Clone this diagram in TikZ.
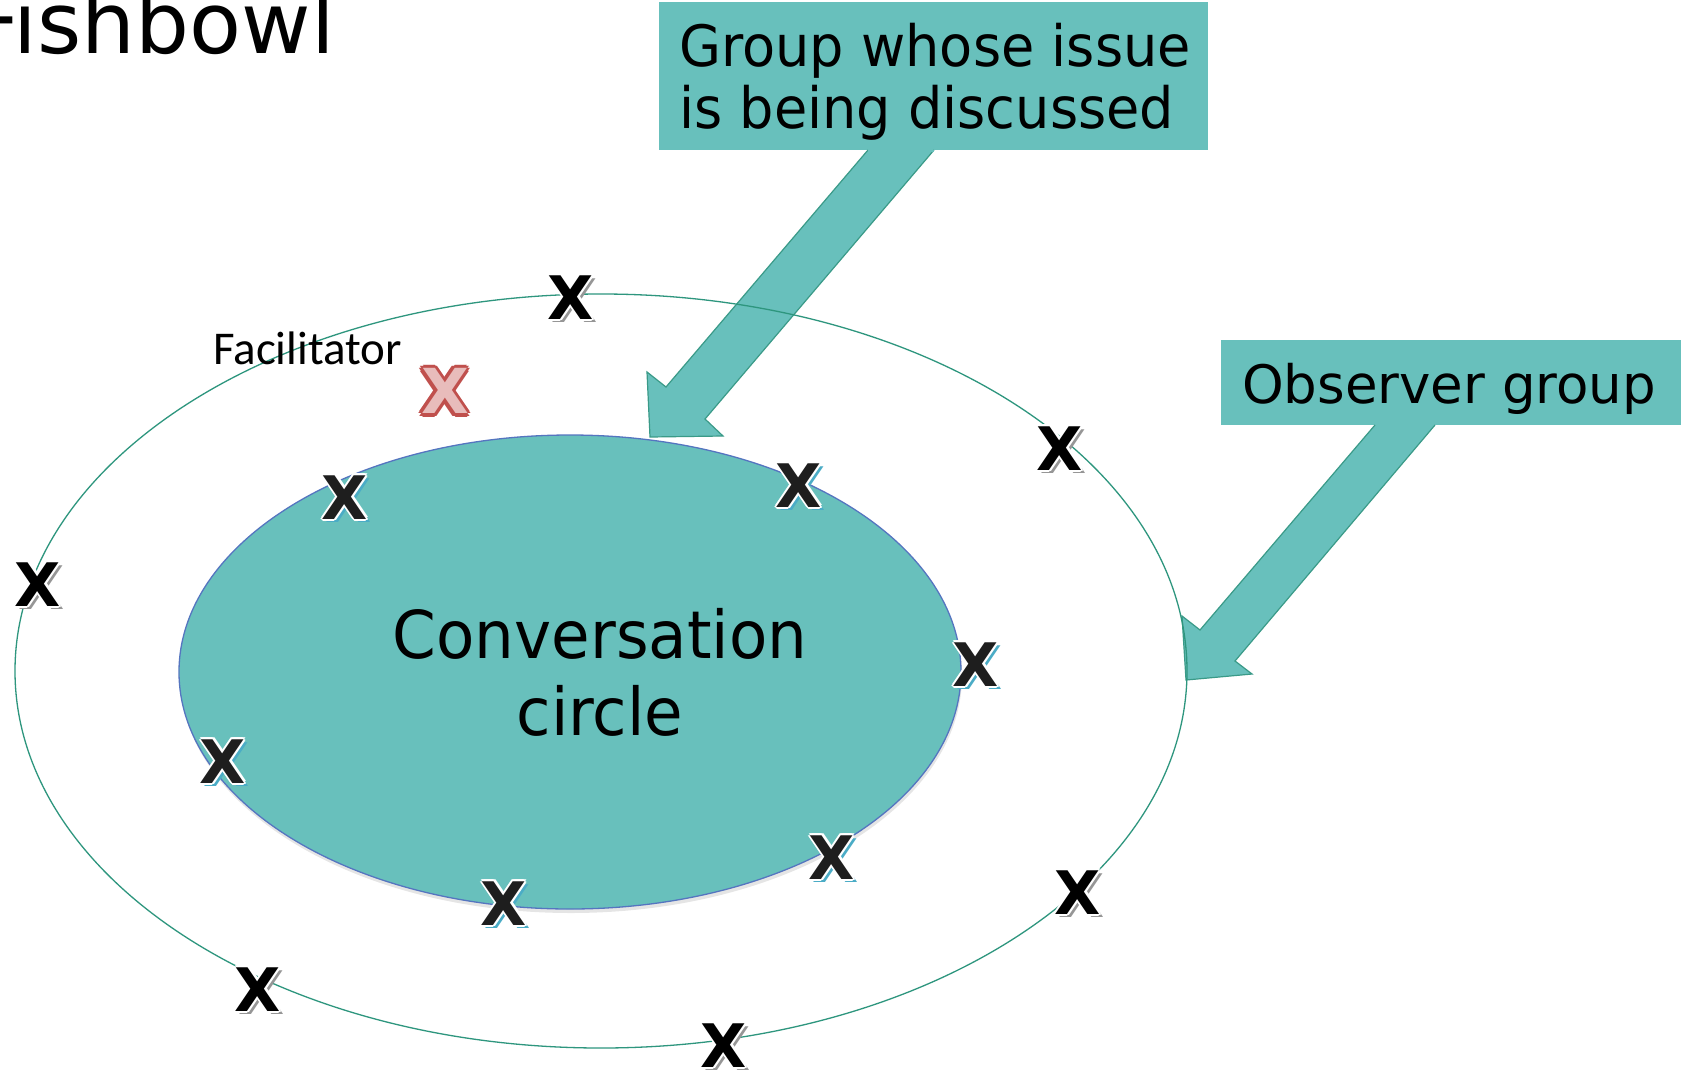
\documentclass[tikz,border=0pt]{standalone}
\usepackage{fontspec}
\setmainfont{DejaVu Sans}
\newfontfamily\grpfont{DejaVu Sans}[FakeStretch=0.95]
\newfontfamily\convfont{DejaVu Sans}[FakeStretch=0.95]
\newfontfamily\calfont{Carlito}
\usetikzlibrary{shapes.geometric,shadows}
\definecolor{tealfill}{RGB}{104,192,188}
\definecolor{outerline}{RGB}{46,150,126}
\definecolor{innerline}{RGB}{85,117,192}
\definecolor{arrowline}{RGB}{58,154,136}
\definecolor{bluesh}{RGB}{75,172,198}
\definecolor{graysh}{RGB}{150,150,150}
\definecolor{redline}{RGB}{192,80,77}
\definecolor{pinkfill}{RGB}{232,188,187}
\definecolor{xblack}{RGB}{30,30,30}
\newcommand\outlineX[4]{% #1 shadow colour, #2 outline colour, #3 face colour, #4 outline width
  \rlap{\hspace{3.5pt}\raisebox{-3.5pt}{\textcolor{#1}{X}}}%
  \rlap{\hspace{#4}\textcolor{#2}{X}}%
  \rlap{\hspace{-#4}\textcolor{#2}{X}}%
  \rlap{\raisebox{#4}{\textcolor{#2}{X}}}%
  \rlap{\raisebox{-#4}{\textcolor{#2}{X}}}%
  \rlap{\hspace{0.7\dimexpr#4\relax}\raisebox{0.7\dimexpr#4\relax}{\textcolor{#2}{X}}}%
  \rlap{\hspace{-0.7\dimexpr#4\relax}\raisebox{0.7\dimexpr#4\relax}{\textcolor{#2}{X}}}%
  \rlap{\hspace{0.7\dimexpr#4\relax}\raisebox{-0.7\dimexpr#4\relax}{\textcolor{#2}{X}}}%
  \rlap{\hspace{-0.7\dimexpr#4\relax}\raisebox{-0.7\dimexpr#4\relax}{\textcolor{#2}{X}}}%
  \textcolor{#3}{X}}
\tikzset{
  xmk/.style={inner sep=0pt, font=\fontsize{60}{60}\selectfont\bfseries},
  labelbox/.style={fill=tealfill, inner sep=0pt, anchor=north west},
  blockarrow/.style={fill=tealfill, draw=arrowline, line width=1.2pt, line join=miter},
}
\begin{document}
\begin{tikzpicture}[x=1pt,y=-1pt]
\useasboundingbox (0,0) rectangle (1681,1074);
\fill[white] (0,0) rectangle (1681,1074);

% title (cut off at the top-left)
\node[anchor=base west, inner sep=0pt, font=\fontsize{85}{85}\selectfont] (title) at (-29,53) {Fishbowl};

% label boxes
\node[labelbox, minimum width=549pt, minimum height=148pt] (gbox) at (659,2) {};
\node[anchor=base west, inner sep=0pt, align=left, font=\grpfont\fontsize{57}{62}\selectfont] (gtext) at (679,128) {Group whose issue\\is being discussed};
\node[labelbox, minimum width=460pt, minimum height=85pt] (obox) at (1221,340) {};
\node[anchor=base west, inner sep=0pt, font=\fontsize{53}{53}\selectfont] (otext) at (1242,403) {Observer group};

% block arrows
\coordinate (a1l) at (868,150);
\coordinate (a1r) at (934,150);
\draw[blockarrow] (a1l) -- (666,387) -- (647,372) -- (650,437) -- (723,436) -- (705,419) -- (a1r);
\fill[tealfill] (a1l) -- (a1r) -- ([yshift=-2pt]a1r) -- ([yshift=-2pt]a1l) -- cycle;
\coordinate (a2l) at (1375,425);
\coordinate (a2r) at (1435,425);
\draw[blockarrow] (a2l) -- (1200,630) -- (1182,616) -- (1186,680) -- (1252,674) -- (1235,661) -- (a2r);

% circles
\node[ellipse, draw=outerline, line width=1.3pt, minimum width=1172pt, minimum height=754pt, inner sep=0pt] (outer) at (601,671) {};
\node[ellipse, fill=tealfill, draw=innerline, line width=1.3pt, minimum width=782pt, minimum height=474pt, inner sep=0pt,
      drop shadow={shadow xshift=1pt, shadow yshift=-4pt, opacity=0.2, fill=black!50}] (inner) at (570,672) {};
\node[inner sep=0pt, align=center, font=\convfont\fontsize{66}{77}\selectfont] (convtext) at (600,672) {Conversation\\circle};

% facilitator
\node[anchor=base west, inner sep=0pt, font=\calfont\fontsize{47}{47}\selectfont] (factext) at (213,364) {Facilitator};
\node[xmk, font=\fontsize{62}{62}\selectfont\bfseries] (fx) at (445,391) {\outlineX{white}{redline}{pinkfill}{3.5pt}};

% participants in the inner circle
\node[xmk] (i1) at (345,498) {\outlineX{bluesh}{white}{xblack}{2pt}};
\node[xmk] (i2) at (799,486) {\outlineX{bluesh}{white}{xblack}{2pt}};
\node[xmk] (i3) at (976,665) {\outlineX{bluesh}{white}{xblack}{2pt}};
\node[xmk] (i4) at (832,858) {\outlineX{bluesh}{white}{xblack}{2pt}};
\node[xmk] (i5) at (504,904) {\outlineX{bluesh}{white}{xblack}{2pt}};
\node[xmk] (i6) at (223,762) {\outlineX{bluesh}{white}{xblack}{2pt}};

% observers in the outer circle
\node[xmk] (o1) at (571,298) {\outlineX{graysh}{white}{black}{2pt}};
\node[xmk] (o2) at (1060,449) {\outlineX{graysh}{white}{black}{2pt}};
\node[xmk] (o3) at (1078,893) {\outlineX{graysh}{white}{black}{2pt}};
\node[xmk] (o4) at (724,1046) {\outlineX{graysh}{white}{black}{2pt}};
\node[xmk] (o5) at (258,990) {\outlineX{graysh}{white}{black}{2pt}};
\node[xmk] (o6) at (38,585) {\outlineX{graysh}{white}{black}{2pt}};
\end{tikzpicture}
\end{document}
